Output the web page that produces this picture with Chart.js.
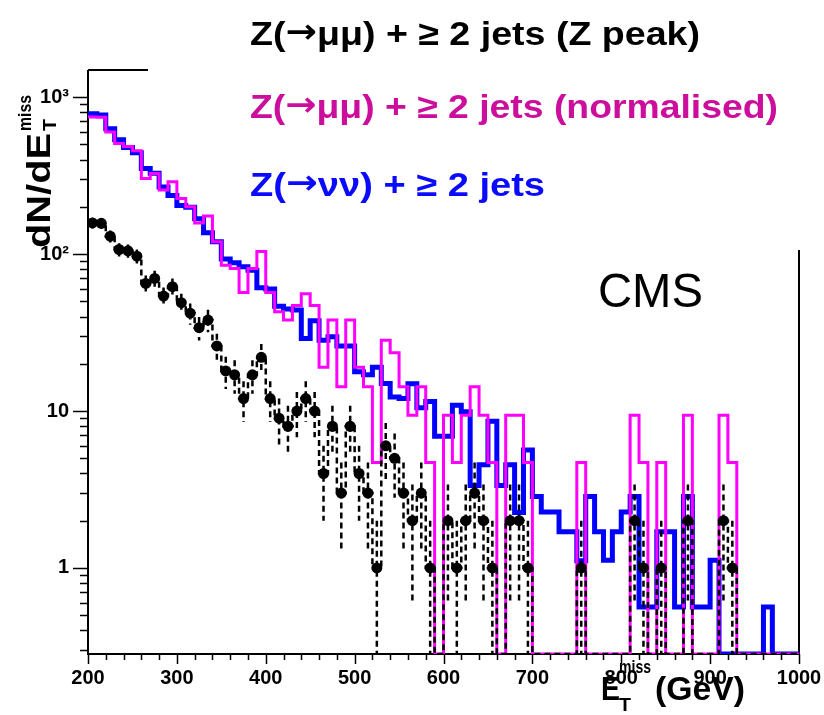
<!DOCTYPE html>
<html>
<head>
<meta charset="utf-8">
<script src="https://cdn.jsdelivr.net/npm/chart.js@4.4.1/dist/chart.umd.min.js"></script>
<style>
html,body{margin:0;padding:0;background:#ffffff;}
#wrap{width:824px;height:715px;position:relative;}
canvas{display:block;}
</style>
</head>
<body>
<div id="wrap"><canvas id="c" width="824" height="715"></canvas></div>
<script>
// ---- categories: lower edges of the 10 GeV E_T^miss bins ----
const binLow = [200,210,220,230,240,250,260,270,280,290,300,310,320,330,340,350,360,370,380,390,
                400,410,420,430,440,450,460,470,480,490,500,510,520,530,540,550,560,570,580,590,
                600,610,620,630,640,650,660,670,680,690,700,710,720,730,740,750,760,770,780,790,
                800,810,820,830,840,850,860,870,880,890,900,910,920,930,940,950,960,970,980,990];
const binHalfWidth = 5;
const xUpperEdge = 1000;

// ---- Z(->mumu) + >=2 jets (Z peak): black points ----
const zPeak = [158,157,130,107,105,97,65,70,54,62,49,42,34,38,26,18,17,12,17,22,
               12,9,8,10,12,10,4,8,3,8,4,3,1,6,5,3,2,3,1,0,
               2,1,2,3,2,1,0,2,2,1,0,0,0,0,0,1,0,0,0,0,
               0,2,1,0,1,0,0,2,0,0,0,2,1,0,0,0,0,0,0,0];
const zPeakErr = [12.6,12.5,11.4,10.3,10.2,9.8,8.1,8.4,7.3,7.9,7.0,6.5,5.8,6.2,5.1,4.2,4.1,3.5,4.1,4.7,
                  3.5,3.0,2.8,3.2,3.5,3.2,2.0,2.8,1.7,2.8,2.0,1.7,1.0,2.4,2.2,1.7,1.4,1.7,1.0,0,
                  1.4,1.0,1.4,1.7,1.4,1.0,0,1.4,1.4,1.0,0,0,0,0,0,1.0,0,0,0,0,
                  0,1.4,1.0,0,1.0,0,0,1.4,0,0,0,1.4,1.0,0,0,0,0,0,0,0];

// ---- Z(->mumu) + >=2 jets (normalised): magenta histogram ----
const zNormalised = [749,745,601,507,485,455,303,326,256,289,226,200,158,175,120,85,81,57,81,104,
                     57,43,38,47,56,47,19,38,14.3,38,19,14.3,4.7,28.3,23.5,14.3,9.4,14.3,4.7,0,
                     9.4,4.7,9.4,14.3,9.4,4.7,0,9.4,9.4,4.7,0,0,0,0,0,4.7,0,0,0,0,
                     0,9.4,4.7,0,4.7,0,0,9.4,0,0,0,9.4,4.7,0,0,0,0,0,0,0];

// ---- Z(->nunu) + >=2 jets: blue histogram ----
const zNuNu = [785,770,630,535,478,442,351,328,268,236,204,199,168,137,120,93,88,83,79,61,
               60,46.5,44.7,44,29,37.6,28.3,29.7,26,26,17.8,17,19,15,12.3,12,14.9,10.5,11.5,6.9,
               6.9,10.9,9.9,3.35,4.55,8.6,3.35,4.55,2.26,5.65,2.85,2.27,2.27,1.7,1.7,1.11,2.85,1.7,1.12,1.7,
               2.27,2.85,0.565,0.565,1.7,1.7,0.565,2.85,0.565,0.565,1.12,0,0,0,0,0,0.565,0,0,0];

// ---- axes / labels ----
const xTickValues = [200,300,400,500,600,700,800,900,1000];
const xMinorStep = 20;
const yTickValues = [1,10,100,1000];
const yTickLabels = {1:'1',10:'10',100:'10\u00B2',1000:'10\u00B3'};
const yMinorTicks = [0.3,0.4,0.5,0.6,0.7,0.8,0.9,2,3,4,5,6,7,8,9,20,30,40,50,60,70,80,90,200,300,400,500,600,700,800,900];
const legendLabels = [
  ['Z(', '\u2192', '\u03BC\u03BC', ') + \u2265 2 jets (Z peak)'],
  ['Z(', '\u2192', '\u03BC\u03BC', ') + \u2265 2 jets (normalised)'],
  ['Z(', '\u2192', '\u03BD\u03BD', ') + \u2265 2 jets']
];
const X_MIN = 200, X_MAX = 1000, Y_MIN = 0.283, Y_MAX = 1490;

const FONT = '"Liberation Sans", Arial, Helvetica, sans-serif';
const ARROW_FONT = '"DejaVu Sans", sans-serif';

// histogram outline: one point per lower bin edge, plus the upper edge of the last bin
function stepData(vals){
  const pts = binLow.map((x,i)=>({x:x, y: vals[i] > 0 ? vals[i] : Y_MIN}));
  pts.push({x:xUpperEdge, y: pts[pts.length-1].y});
  return pts;
}
const markerData = binLow.map((x,i)=> zPeak[i] > 0 ? {x:x+binHalfWidth, y:zPeak[i]} : null).filter(p=>p);

function fitText(ctx, text, x, baseline, width, font, color){
  ctx.save();
  ctx.font = font;
  const w = ctx.measureText(text).width;
  ctx.translate(x, baseline);
  ctx.scale(width / w, 1);
  ctx.fillStyle = color;
  ctx.textAlign = 'left';
  ctx.textBaseline = 'alphabetic';
  ctx.fillText(text, 0, 0);
  ctx.restore();
}
// segmented legend line: Z( → μμ ) ...
function fitSegments(ctx, segs, x, baseline, width, size, color){
  const fonts = ['bold '+size+'px '+FONT, 'bold '+size+'px '+ARROW_FONT, 'bold '+size+'px '+FONT, 'bold '+size+'px '+FONT];
  let total = 0; const ws = [];
  segs.forEach((s,i)=>{ ctx.font = fonts[i]; const w = ctx.measureText(s).width; ws.push(w); total += w; });
  ctx.save();
  ctx.translate(x, baseline);
  ctx.scale(width/total, 1);
  ctx.fillStyle = color; ctx.textAlign='left'; ctx.textBaseline='alphabetic';
  let cx = 0;
  segs.forEach((s,i)=>{ ctx.font = fonts[i]; ctx.fillText(s, cx, i===1 ? -2 : 0); cx += ws[i]; });
  ctx.restore();
}

const decorPlugin = {
  id: 'decor',
  beforeDatasetsDraw(chart){
    const ctx = chart.ctx, a = chart.chartArea;
    const xs = chart.scales.x, ys = chart.scales.y;
    ctx.save();
    ctx.strokeStyle = '#000';
    ctx.lineWidth = 2;
    // frame (top and right partly hidden by the legend box)
    ctx.beginPath();
    ctx.moveTo(a.left, a.top); ctx.lineTo(a.left, a.bottom); ctx.lineTo(a.right, a.bottom);
    ctx.moveTo(a.right, a.bottom); ctx.lineTo(a.right, 250);
    ctx.moveTo(a.left, a.top); ctx.lineTo(148, a.top);
    ctx.stroke();
    // y ticks (outward)
    ctx.lineWidth = 1.5;
    ctx.beginPath();
    yTickValues.forEach(v=>{ const p = Math.round(ys.getPixelForValue(v))+0.5; ctx.moveTo(a.left, p); ctx.lineTo(a.left-15, p); });
    yMinorTicks.forEach(v=>{ const p = Math.round(ys.getPixelForValue(v))+0.5; ctx.moveTo(a.left, p); ctx.lineTo(a.left-8, p); });
    // x ticks (outward)
    for (let v = X_MIN; v <= X_MAX; v += xMinorStep){
      const p = Math.round(xs.getPixelForValue(v))+0.5;
      const major = xTickValues.indexOf(v) >= 0;
      ctx.moveTo(p, a.bottom); ctx.lineTo(p, a.bottom + (major ? 10 : 6));
    }
    ctx.stroke();
    ctx.restore();
  },
  afterDatasetsDraw(chart){
    const ctx = chart.ctx, a = chart.chartArea;
    const xs = chart.scales.x, ys = chart.scales.y;
    // dashed error bars on the Z-peak points
    ctx.save();
    ctx.beginPath(); ctx.rect(a.left, a.top, a.right-a.left, a.bottom-a.top); ctx.clip();
    ctx.strokeStyle = '#000'; ctx.lineWidth = 2.5; ctx.setLineDash([6,4]);
    binLow.forEach((x,i)=>{
      if (zPeak[i] <= 0 || zPeakErr[i] <= 0) return;
      const px = xs.getPixelForValue(x + binHalfWidth);
      const hi = ys.getPixelForValue(zPeak[i] + zPeakErr[i]);
      const lowV = zPeak[i] - zPeakErr[i];
      const lo = lowV > 0 ? ys.getPixelForValue(lowV) : a.bottom + 5;
      ctx.beginPath(); ctx.moveTo(px, hi); ctx.lineTo(px, lo); ctx.stroke();
    });
    ctx.restore();
  },
  afterDraw(chart){
    const ctx = chart.ctx;
    fitSegments(ctx, legendLabels[0], 250, 45, 450, 34, '#000000');
    fitSegments(ctx, legendLabels[1], 250, 118, 528, 34, '#cc0e9c');
    fitSegments(ctx, legendLabels[2], 250, 196, 295, 34, '#0a0aff');
    // CMS
    fitText(ctx, 'CMS', 598, 307, 105, '48px ' + FONT, '#000000');
    // x title
    ctx.save();
    fitText(ctx, 'E', 601, 700, 19, 'bold 33px ' + FONT, '#000');
    fitText(ctx, 'miss', 619, 673, 32, 'bold 19px ' + FONT, '#000');
    fitText(ctx, 'T', 619, 711, 12, 'bold 19px ' + FONT, '#000');
    fitText(ctx, '(GeV)', 655, 700, 90, 'bold 33px ' + FONT, '#000');
    // y title (rotated)
    ctx.translate(50, 248);
    ctx.rotate(-Math.PI/2);
    fitText(ctx, 'dN/dE', 0, 0, 115, 'bold 33px ' + FONT, '#000');
    fitText(ctx, 'miss', 117, -19, 36, 'bold 19px ' + FONT, '#000');
    fitText(ctx, 'T', 117, 6, 12, 'bold 19px ' + FONT, '#000');
    ctx.restore();
  }
};

new Chart(document.getElementById('c'), {
  type: 'line',
  data: {
    datasets: [
      { type:'scatter', label:'Z peak points', data: markerData, showLine:false,
        pointRadius:5.5, pointHoverRadius:5.5, pointBackgroundColor:'#000', pointBorderColor:'#000', pointBorderWidth:0, order:0 },
      { label:'Z peak', data: stepData(zPeak), stepped:'before', borderColor:'#000', borderWidth:2.5,
        borderDash:[6,4], pointRadius:0, fill:false, order:1 },
      { label:'normalised', data: stepData(zNormalised), stepped:'before', borderColor:'#ff00ff', borderWidth:3,
        pointRadius:0, fill:false, order:2 },
      { label:'nunu', data: stepData(zNuNu), stepped:'before', borderColor:'#0000ff', borderWidth:5,
        pointRadius:0, fill:false, order:3 }
    ]
  },
  options: {
    responsive:false, animation:false, devicePixelRatio:1,
    layout:{ padding:{ top:70, right:25, left:0, bottom:0 } },
    plugins:{ legend:{display:false}, title:{display:false}, tooltip:{enabled:false} },
    scales:{
      x:{ type:'linear', min:X_MIN, max:X_MAX,
          grid:{display:false, drawTicks:false, tickLength:0}, border:{display:false},
          afterBuildTicks: s => { s.ticks = xTickValues.map(v=>({value:v})); },
          afterFit: s => { s.height = 61; s.paddingLeft = 0; s.paddingRight = 0; },
          ticks:{ padding:12, color:'#000', font:{family:FONT, size:20, weight:'bold'}, maxRotation:0,
                  autoSkip:false, callback: v => String(v) } },
      y:{ type:'logarithmic', min:Y_MIN, max:Y_MAX,
          grid:{display:false, drawTicks:false, tickLength:0}, border:{display:false},
          afterBuildTicks: s => { s.ticks = yTickValues.map(v=>({value:v})); },
          afterFit: s => { s.width = 88; s.paddingTop = 0; s.paddingBottom = 0; },
          ticks:{ padding:19, color:'#000', font:{family:FONT, size:20, weight:'bold'}, autoSkip:false,
                  callback: v => yTickLabels[v] || '' } }
    }
  },
  plugins:[decorPlugin]
});
</script>
</body>
</html>
